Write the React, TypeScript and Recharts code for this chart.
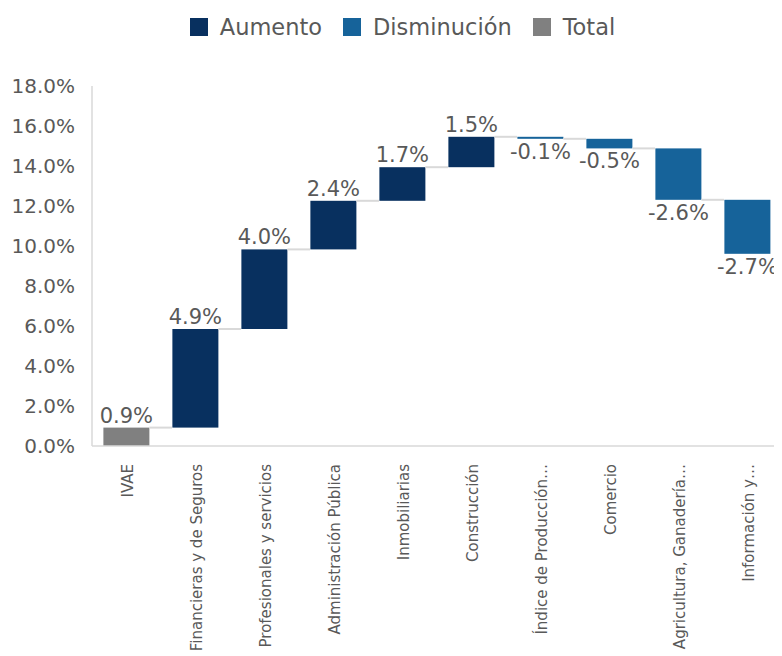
import React from 'react';
import { BarChart, Bar, XAxis, YAxis, Legend, LabelList } from 'recharts';

const categories = [
  'IVAE',
  'Financieras y de Seguros',
  'Profesionales y servicios',
  'Administración Pública',
  'Inmobiliarias',
  'Construcción',
  'Índice de Producción…',
  'Comercio',
  'Agricultura, Ganadería…',
  'Información y…',
];
const changes = [0.92, 4.93, 3.98, 2.43, 1.68, 1.52, -0.1, -0.48, -2.57, -2.7];
const kinds = ['total', 'up', 'up', 'up', 'up', 'up', 'down', 'down', 'down', 'down'];
const yTicks = [0, 2, 4, 6, 8, 10, 12, 14, 16, 18];
const seriesNames = { up: 'Aumento', down: 'Disminución', total: 'Total' };
const colors = { up: '#08305F', down: '#16639A', total: '#808080' };

const FONT = '"DejaVu Sans", sans-serif';
const TEXT = '#595959';
const GRID = '#d9d9d9';
const BAR_FRAC = 0.67;

let running = 0;
const data = categories.map((name, i) => {
  const kind = kinds[i];
  const d = changes[i];
  let base = 0;
  if (kind === 'total') {
    base = 0;
    running = d;
  } else if (kind === 'up') {
    base = running;
    running += d;
  } else {
    running += d;
    base = running;
  }
  return {
    name,
    base,
    up: kind === 'up' ? Math.abs(d) : null,
    down: kind === 'down' ? Math.abs(d) : null,
    total: kind === 'total' ? Math.abs(d) : null,
    label: d,
  };
});

const makeShape = (key: string, isDown: boolean) => (props: any) => {
  const { x, y, width, height, payload, fill, index } = props;
  if (!payload || payload[key] == null) return null;
  const endY = isDown ? y + height : y;
  const gap = (width * (1 - BAR_FRAC)) / BAR_FRAC;
  return (
    <g>
      <rect x={x} y={y} width={width} height={Math.max(height, 0)} fill={fill} />
      {index < categories.length - 1 && (
        <line x1={x + width} x2={x + width + gap} y1={endY} y2={endY} stroke={GRID} strokeWidth={2} />
      )}
    </g>
  );
};

const fmtLabel = (v: any) => (v == null ? '' : `${Number(v).toFixed(1)}%`);

const XTick = (props: any) => {
  const { x, y, payload } = props;
  return (
    <g transform={`translate(${x + 1},${y + 10})`}>
      <text
        transform="rotate(-90)"
        textAnchor="end"
        dy="0.35em"
        fontFamily={FONT}
        fontSize={15}
        fill={TEXT}
      >
        {payload.value}
      </text>
    </g>
  );
};

const renderLegend = () => (
  <div
    style={{
      display: 'flex',
      justifyContent: 'center',
      alignItems: 'center',
      fontFamily: FONT,
      fontSize: 22.5,
      color: TEXT,
      lineHeight: '26px',
      paddingLeft: 36,
    }}
  >
    {(['up', 'down', 'total'] as const).map((k) => (
      <div key={k} style={{ display: 'flex', alignItems: 'center', marginRight: 21 }}>
        <span style={{ display: 'inline-block', width: 18, height: 18, background: colors[k], marginRight: 12 }} />
        <span>{seriesNames[k]}</span>
      </div>
    ))}
  </div>
);

export default function App() {
  return (
    <BarChart
      width={774}
      height={648}
      data={data}
      margin={{ top: 6, right: 0, left: 0, bottom: 0 }}
      barCategoryGap="16.5%"
    >
      <Legend verticalAlign="top" height={72} content={renderLegend} />
      <XAxis
        dataKey="name"
        interval={0}
        height={210}
        tickLine={false}
        axisLine={{ stroke: GRID, strokeWidth: 1.5 }}
        tick={<XTick />}
      />
      <YAxis
        width={84}
        domain={[0, 18]}
        ticks={yTicks}
        tickFormatter={(v: number) => `${v.toFixed(1)}%`}
        tickLine={false}
        tickMargin={11}
        axisLine={{ stroke: GRID, strokeWidth: 1.5 }}
        tick={{ fontFamily: FONT, fontSize: 20, fill: TEXT }}
      />
      <Bar dataKey="base" stackId="s" fill="transparent" legendType="none" isAnimationActive={false} />
      <Bar dataKey="up" name={seriesNames.up} stackId="s" fill={colors.up} isAnimationActive={false} shape={makeShape('up', false)}>
        <LabelList dataKey="up" position="top" formatter={fmtLabel} fontFamily={FONT} fontSize={21} fill={TEXT} />
      </Bar>
      <Bar dataKey="down" name={seriesNames.down} stackId="s" fill={colors.down} isAnimationActive={false} shape={makeShape('down', true)}>
        <LabelList dataKey="label" position="bottom" formatter={(v: any) => (v < 0 ? fmtLabel(v) : '')} fontFamily={FONT} fontSize={21} fill={TEXT} />
      </Bar>
      <Bar dataKey="total" name={seriesNames.total} stackId="s" fill={colors.total} isAnimationActive={false} shape={makeShape('total', false)}>
        <LabelList dataKey="total" position="top" formatter={fmtLabel} fontFamily={FONT} fontSize={21} fill={TEXT} />
      </Bar>
    </BarChart>
  );
}
